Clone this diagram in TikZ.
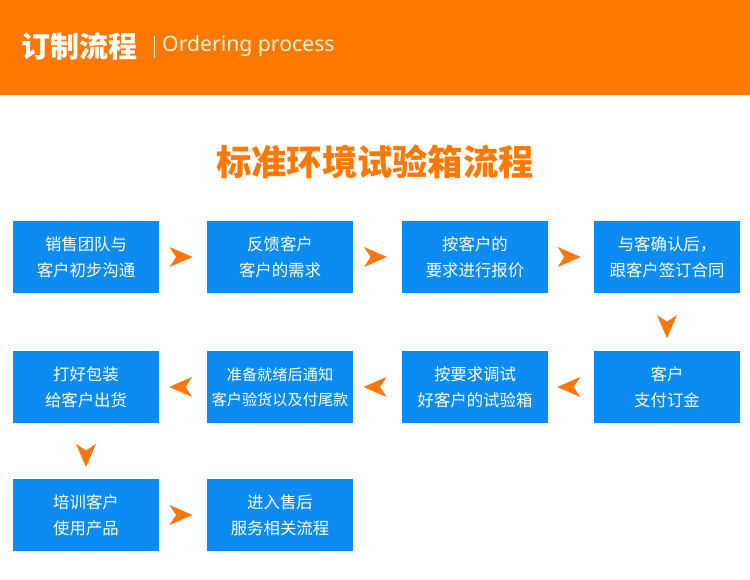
\documentclass[tikz,border=0pt]{standalone}
\usepackage{fontspec}
\setmainfont{Noto Sans}
\newfontfamily\cjk{Noto Sans CJK SC}
\usetikzlibrary{calc}
\definecolor{hdrorange}{RGB}{255,120,0}
\definecolor{boxblue}{RGB}{12,140,242}
\definecolor{arrorange}{RGB}{255,118,10}
\definecolor{cream}{RGB}{255,242,215}
\tikzset{
  stepbox/.style={fill=boxblue, draw=none, minimum width=146pt, minimum height=72pt,
    inner sep=0pt, text=white, align=center,
    font=\cjk\fontsize{16.4}{26}\selectfont},
  smalltext/.style={font=\cjk\fontsize{15.2}{25}\selectfont},
  pics/flowhead/.style={code={
    \fill[arrorange] (11.5pt,0) -- (-11.5pt,10pt) -- (-5pt,0) -- (-11.5pt,-10pt) -- cycle;}}
}
\begin{document}
\begin{tikzpicture}[x=1pt,y=-1pt]
\useasboundingbox (0,0) rectangle (750,579);
\fill[white] (0,0) rectangle (750,579);
% header band
\fill[hdrorange] (0,0) rectangle (750,95);
\node[anchor=west, inner sep=0pt, text=white, font=\cjk\bfseries\fontsize{29}{29}\selectfont] (htitle) at (21,46) {订制流程};
\coordinate (bartop) at (154,36);
\coordinate (barbot) at (154,58);
\draw[cream, line width=0.9pt] (bartop) -- (barbot);
\node[anchor=west, inner sep=0pt, text=cream, font=\fontsize{21.2}{21}\selectfont] (hsub) at (162,46) {Ordering process};
% main title
\node[text=hdrorange, inner sep=0pt, font=\cjk\bfseries\fontsize{35.3}{35}\selectfont] (title) at (375,162) {标准环境试验箱流程};
% boxes row 1
\node[stepbox] (b1) at (86,257) {销售团队与\\客户初步沟通};
\node[stepbox] (b2) at (280,257) {反馈客户\\客户的需求};
\node[stepbox] (b3) at (475,257) {按客户的\\要求进行报价};
\node[stepbox] (b4) at (667,257) {与客确认后，\\跟客户签订合同};
% row 2
\node[stepbox] (b5) at (667,387) {客户\\支付订金};
\node[stepbox] (b6) at (475,387) {按要求调试\\好客户的试验箱};
\node[stepbox, smalltext] (b7) at (280,387) {准备就绪后通知\\客户验货以及付尾款};
\node[stepbox] (b8) at (86,387) {打好包装\\给客户出货};
% row 3
\node[stepbox] (b9) at (86,515) {培训客户\\使用产品};
\node[stepbox] (b10) at (280,515) {进入售后\\服务相关流程};
% arrowheads between boxes
\path ($(b1.east)!0.46!(b2.west)$) pic {flowhead};
\path ($(b2.east)!0.46!(b3.west)$) pic {flowhead};
\path ($(b3.east)!0.46!(b4.west)$) pic {flowhead};
\path ($(b4.south)!0.58!(b5.north)$) pic[rotate=-90] {flowhead};
\path ($(b5.west)!0.55!(b6.east)$) pic[rotate=180] {flowhead};
\path ($(b6.west)!0.55!(b7.east)$) pic[rotate=180] {flowhead};
\path ($(b7.west)!0.55!(b8.east)$) pic[rotate=180] {flowhead};
\path ($(b8.south)!0.58!(b9.north)$) pic[rotate=-90] {flowhead};
\path ($(b9.east)!0.46!(b10.west)$) pic {flowhead};
\end{tikzpicture}
\end{document}
